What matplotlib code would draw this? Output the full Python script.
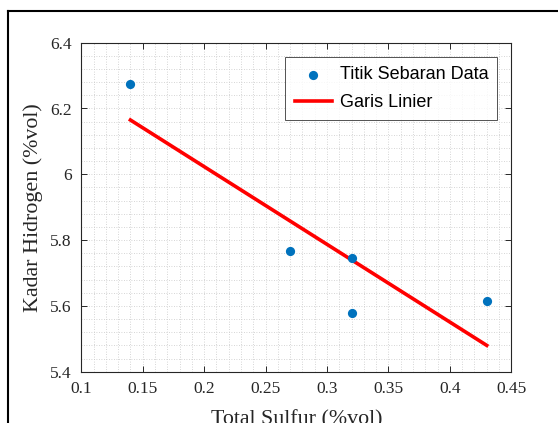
import matplotlib
matplotlib.use("Agg")
import matplotlib.pyplot as plt
from matplotlib.lines import Line2D
from matplotlib.ticker import MultipleLocator

# Measured samples
total_sulfur = [0.14, 0.27, 0.32, 0.32, 0.43]
kadar_hidrogen = [6.274, 5.767, 5.747, 5.578, 5.615]

# Least-squares line endpoints
garis_x = [0.14, 0.43]
garis_y = [6.165, 5.480]

x_ticks = [0.1, 0.15, 0.2, 0.25, 0.3, 0.35, 0.4, 0.45]
x_tick_labels = ["0.1", "0.15", "0.2", "0.25", "0.3", "0.35", "0.4", "0.45"]
y_ticks = [5.4, 5.6, 5.8, 6.0, 6.2, 6.4]
y_tick_labels = ["5.4", "5.6", "5.8", "6", "6.2", "6.4"]

W, H = 558, 423
fig = plt.figure(figsize=(W / 100, H / 100), dpi=100)
fig.patch.set_facecolor("white")

# Outer window frame (left and top edges)
fx = 7.5 / W
fy = 1 - 11 / H
fig.add_artist(Line2D([fx, fx], [0, fy], transform=fig.transFigure,
                      color="black", lw=1.5))
fig.add_artist(Line2D([fx, 1], [fy, fy], transform=fig.transFigure,
                      color="black", lw=1.5))

ax = fig.add_axes([81.3 / W, 1 - 371.7 / H, 430 / W, 329 / H])

axis_color = "#262626"
serif = ["Liberation Serif", "DejaVu Serif"]
sans = ["Liberation Sans", "DejaVu Sans"]

ax.scatter(total_sulfur, kadar_hidrogen, s=44, color="#0072BD",
           zorder=3, label="Titik Sebaran Data", linewidths=0)
ax.plot(garis_x, garis_y, color="#FF0000", lw=2.6, zorder=2,
        label="Garis Linier")

ax.set_xlim(0.1, 0.45)
ax.set_ylim(5.4, 6.4)
ax.set_xticks(x_ticks)
ax.set_xticklabels(x_tick_labels, fontfamily=serif, fontsize=12.5)
ax.set_yticks(y_ticks)
ax.set_yticklabels(y_tick_labels, fontfamily=serif, fontsize=12.5)
ax.xaxis.set_minor_locator(MultipleLocator(0.01))
ax.yaxis.set_minor_locator(MultipleLocator(0.04))

ax.tick_params(which="major", direction="in", length=4, width=0.7,
               top=True, right=True, colors=axis_color, pad=7)
ax.tick_params(which="minor", length=0, top=True, right=True)

ax.grid(which="both", linestyle=(0, (1, 2)), color="#c8c8c8", lw=0.6)
ax.set_axisbelow(True)
for sp in ax.spines.values():
    sp.set_color(axis_color)
    sp.set_linewidth(0.8)

ax.set_xlabel("Total Sulfur (%vol)", fontfamily=serif, fontsize=15.8,
              color=axis_color, labelpad=9)
ax.set_ylabel("Kadar Hidrogen (%vol)", fontfamily=serif, fontsize=15.8,
              color=axis_color, labelpad=5)

leg = ax.legend(loc="upper right", bbox_to_anchor=(497.3 / W, 1 - 57.3 / H),
                bbox_transform=fig.transFigure, prop={"family": sans, "size": 13},
                frameon=True, fancybox=False, edgecolor="#262626",
                borderpad=0.5, handlelength=2.05, handletextpad=0.45,
                labelspacing=0.6, borderaxespad=0, scatterpoints=1)
leg.get_frame().set_linewidth(0.7)

fig.savefig("out.png", dpi=100, facecolor="white")
